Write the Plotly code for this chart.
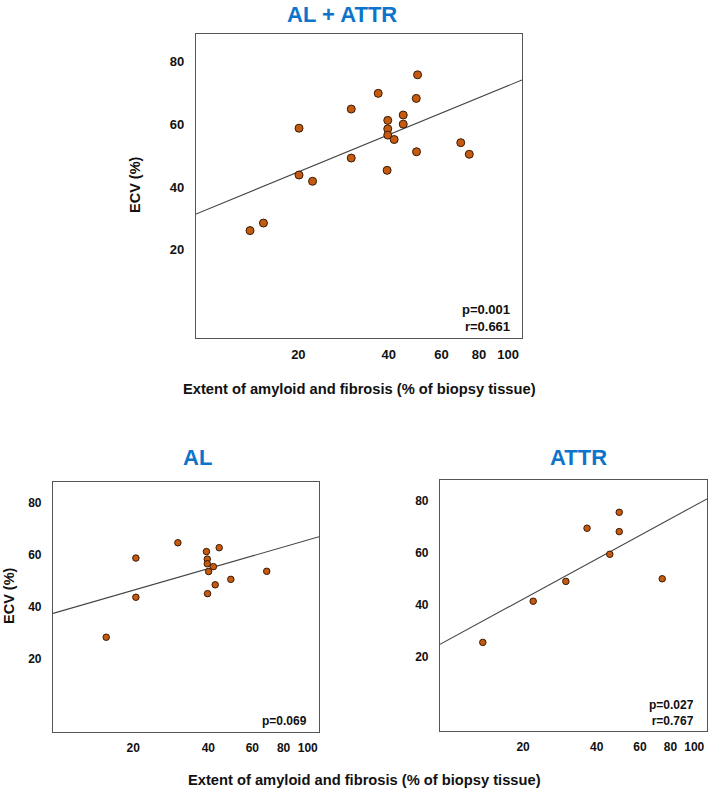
import numpy as np
import plotly.graph_objects as go

W, H = 709, 791

# ---------------- data ----------------
all_x = [13.8, 15.3, 20.1, 20.1, 22.3, 30.0, 30.0, 36.9, 39.7, 39.7, 39.7, 41.7, 39.5, 44.7, 44.7, 49.9, 49.4, 49.5, 69.5, 74.2]
all_y = [26.1, 28.5, 58.7, 43.8, 41.8, 64.8, 49.2, 69.8, 61.2, 58.5, 56.5, 55.1, 45.3, 62.9, 60.0, 75.7, 68.2, 51.2, 54.1, 50.4]

al_x = [15.6, 20.5, 20.5, 30.2, 39.3, 39.6, 39.6, 41.9, 40.1, 44.2, 39.7, 42.6, 49.2, 68.5]
al_y = [28.2, 58.7, 43.6, 64.6, 61.2, 58.3, 56.5, 55.4, 53.5, 62.7, 45.0, 48.4, 50.5, 53.6]

attr_x = [13.7, 22.0, 29.9, 36.5, 45.2, 49.4, 49.4, 74.0]
attr_y = [25.6, 41.4, 49.0, 69.4, 59.4, 75.5, 68.1, 50.0]

# regression line: ECV = intercept + slope * log10(extent)
fit_all = [-6.35, 39.3]
fit_al = [10.25, 27.7]
fit_attr = [-24.4, 51.2]

x_ticks = [20, 40, 60, 80, 100]
y_ticks = [20, 40, 60, 80]

titles = ["AL + ATTR", "AL", "ATTR"]
stats = ["p=0.001<br>r=0.661", "p=0.069", "p=0.027<br>r=0.767"]
x_title = "Extent of amyloid and fibrosis (% of biopsy tissue)"
y_title = "ECV (%)"

# ---------------- layout helpers ----------------
FONT = "Liberation Sans, Arial, sans-serif"
MARK = "#C55A11"
MARK_LINE = "#3a1a04"
BLUE = "#0E74CB"

def fx(p):
    return p / W

def fy(p):
    return 1 - p / H

panels = [
    dict(xd=(196, 522), yd=(34, 338), xr=(0.960, 2.046), yr=(-8.1, 88.7), ms=8,
         x=all_x, y=all_y, fit=fit_all, tfs=13),
    dict(xd=(53, 319), yd=(482, 732), xr=(0.980, 2.045), yr=(-8.3, 88.0), ms=6.5,
         x=al_x, y=al_y, fit=fit_al, tfs=12),
    dict(xd=(440, 707), yd=(480, 731), xr=(0.962, 2.052), yr=(-8.4, 87.9), ms=6.5,
         x=attr_x, y=attr_y, fit=fit_attr, tfs=12),
]

fig = go.Figure()

for i, p in enumerate(panels):
    n = "" if i == 0 else str(i + 1)
    xa, ya = "x" + n, "y" + n
    lx = np.array([10 ** p["xr"][0], 10 ** p["xr"][1]])
    ly = p["fit"][0] + p["fit"][1] * np.log10(lx)
    fig.add_trace(go.Scatter(x=lx, y=ly, mode="lines", xaxis=xa, yaxis=ya,
                             line=dict(color="#444444", width=1.1),
                             showlegend=False, hoverinfo="skip"))
    fig.add_trace(go.Scatter(x=p["x"], y=p["y"], mode="markers", xaxis=xa, yaxis=ya,
                             marker=dict(size=p["ms"], color=MARK,
                                         line=dict(color=MARK_LINE, width=1)),
                             showlegend=False))
    axx = dict(domain=[fx(p["xd"][0]), fx(p["xd"][1])], type="log",
               range=list(p["xr"]), anchor=ya,
               showline=True, mirror=True, linecolor="#555555", linewidth=1.2,
               showgrid=False, zeroline=False, ticks="",
               tickvals=x_ticks, ticktext=[str(v) for v in x_ticks],
               tickfont=dict(family=FONT, size=p["tfs"], color="#111111", weight=700),
               ticklabelstandoff=4)
    axy = dict(domain=[fy(p["yd"][1]), fy(p["yd"][0])],
               range=list(p["yr"]), anchor=xa,
               showline=True, mirror=True, linecolor="#555555", linewidth=1.2,
               showgrid=False, zeroline=False, ticks="",
               tickvals=y_ticks, ticktext=[str(v) for v in y_ticks],
               tickfont=dict(family=FONT, size=p["tfs"], color="#111111", weight=700),
               ticklabelstandoff=8)
    fig.update_layout(**{"xaxis" + n: axx, "yaxis" + n: axy})

ann = []
for (cx, cy, ya), t in zip([(342, 0, "top"), (197, 457, "middle"), (578, 457, "middle")], titles):
    ann.append(dict(text=t, x=fx(cx), y=fy(cy), xref="paper", yref="paper",
                    showarrow=False, xanchor="center", yanchor=ya,
                    font=dict(family=FONT, size=22, color=BLUE, weight=700)))
for (rx, ty, fs), t in zip([(512, 300, 13), (309, 712, 12), (696, 696, 12)], stats):
    ann.append(dict(text=t, x=fx(rx), y=fy(ty), xref="paper", yref="paper",
                    showarrow=False, xanchor="right", yanchor="top", align="right",
                    font=dict(family=FONT, size=fs, color="#111111", weight=700)))
ann.append(dict(text=x_title, x=fx(359), y=fy(389), xref="paper", yref="paper",
                showarrow=False, xanchor="center", yanchor="middle",
                font=dict(family=FONT, size=14.7, color="#111111", weight=700)))
ann.append(dict(text=x_title, x=fx(364), y=fy(780), xref="paper", yref="paper",
                showarrow=False, xanchor="center", yanchor="middle",
                font=dict(family=FONT, size=14.7, color="#111111", weight=700)))
for cx, cy in [(135, 185), (9, 596)]:
    ann.append(dict(text=y_title, x=fx(cx), y=fy(cy), xref="paper", yref="paper",
                    showarrow=False, xanchor="center", yanchor="middle", textangle=-90,
                    font=dict(family=FONT, size=14.5, color="#111111", weight=700)))

fig.update_layout(width=W, height=H, margin=dict(l=0, r=0, t=0, b=0),
                  paper_bgcolor="white", plot_bgcolor="white",
                  annotations=ann, font=dict(family=FONT))

fig.write_html("out.html", config={"displayModeBar": False},
               post_script="document.body.style.margin='0';document.body.style.padding='0';")
